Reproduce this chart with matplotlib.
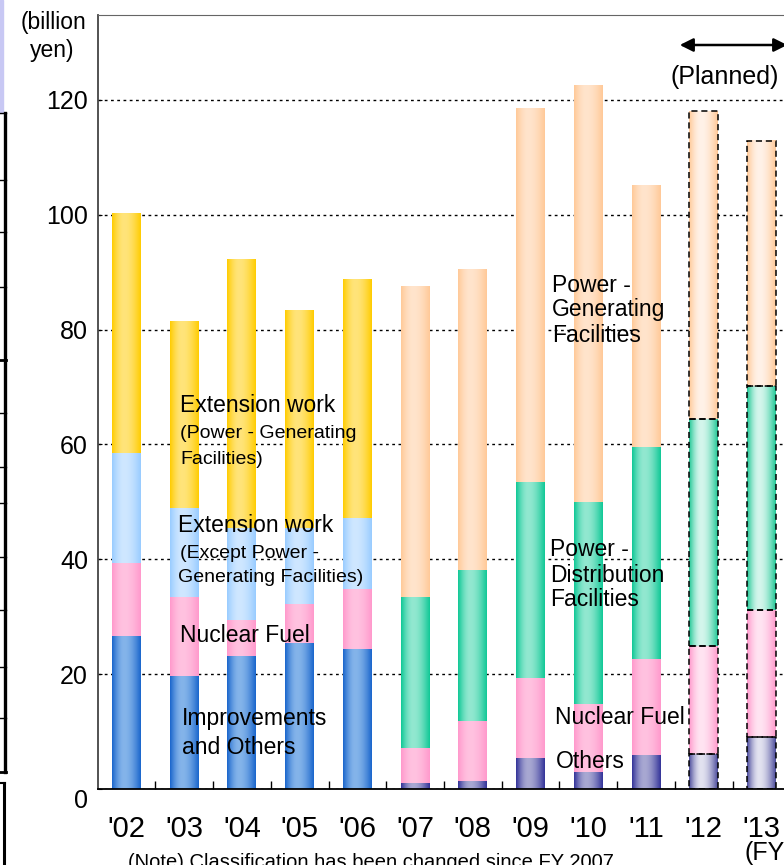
import matplotlib
matplotlib.use("Agg")
import matplotlib.pyplot as plt
import numpy as np
from matplotlib.colors import to_rgb
from matplotlib.lines import Line2D
from matplotlib.patches import Rectangle

plt.rcParams['font.family'] = ['Liberation Sans', 'DejaVu Sans']

years = ["'02", "'03", "'04", "'05", "'06", "'07", "'08", "'09", "'10", "'11", "'12", "'13"]

# old classification (FY02-06)
improvements = [26.7, 19.7, 23.2, 25.4, 24.4, 0, 0, 0, 0, 0, 0, 0]
nuclear_old = [12.6, 13.7, 6.2, 6.8, 10.4, 0, 0, 0, 0, 0, 0, 0]
ext_other = [19.2, 15.6, 16.1, 13.3, 12.4, 0, 0, 0, 0, 0, 0, 0]
ext_power = [41.7, 32.4, 46.7, 37.9, 41.6, 0, 0, 0, 0, 0, 0, 0]

# new classification (FY07-13), '12 and '13 planned
others = [0, 0, 0, 0, 0, 1.0, 1.4, 5.4, 3.0, 5.9, 6.1, 9.1]
nuclear_new = [0, 0, 0, 0, 0, 6.1, 10.4, 13.9, 11.8, 16.7, 18.8, 22.1]
distribution = [0, 0, 0, 0, 0, 26.3, 26.4, 34.2, 35.2, 37.0, 39.6, 39.0]
generating = [0, 0, 0, 0, 0, 54.1, 52.4, 65.1, 72.5, 45.5, 53.5, 42.7]

planned = [False] * 10 + [True, True]

# (edge, centre) colours for the shaded bars
series = [
    (improvements, ('#1a66cc', '#84b4ea'), ('#1a66cc', '#84b4ea')),
    (nuclear_old, ('#ff99cc', '#ffc2e0'), ('#ff99cc', '#ffc2e0')),
    (ext_other, ('#99ccff', '#cfe7ff'), ('#99ccff', '#cfe7ff')),
    (ext_power, ('#ffcc00', '#ffe47a'), ('#ffcc00', '#ffe47a')),
    (others, ('#333399', '#a8a8d2'), ('#4c4c9c', '#e2e2f0')),
    (nuclear_new, ('#ff99cc', '#ffc2e0'), ('#ff99cc', '#ffe4f2')),
    (distribution, ('#10c896', '#92e8d0'), ('#22c896', '#d4f6ec')),
    (generating, ('#ffc998', '#ffe4cc'), ('#ffc998', '#fff2e8')),
]


def gradient(edge, mid, n=80):
    x = np.linspace(0, 1, n)
    t = np.where(x < 0.42, x / 0.42, (1 - x) / 0.58)
    t = np.sin(t * np.pi / 2)
    e = np.array(to_rgb(edge))
    m = np.array(to_rgb(mid))
    return (e[None, :] * (1 - t[:, None]) + m[None, :] * t[:, None])[None, :, :]


fig = plt.figure(figsize=(7.84, 8.65), dpi=100)
ax = fig.add_axes([97.6 / 784, 76 / 865, 692.8 / 784, 774 / 865])

x = np.arange(len(years))
bottom = np.zeros(len(years))
for vals, col, col_p in series:
    vals = np.array(vals)
    bars = ax.bar(x, vals, 0.5, bottom=bottom, color=col[0], zorder=2)
    for i, p in enumerate(bars.patches):
        if vals[i] <= 0:
            continue
        c = col_p if planned[i] else col
        ax.imshow(gradient(*c), extent=(p.get_x(), p.get_x() + p.get_width(),
                                        p.get_y(), p.get_y() + p.get_height()),
                  aspect='auto', zorder=2.1, interpolation='bilinear')
        if planned[i]:
            ax.add_patch(Rectangle((p.get_x(), p.get_y()), p.get_width(), p.get_height(),
                                   fill=False, ec='black', lw=1.1, ls=(0, (4, 2.5)), zorder=3))
    bottom += vals

ax.set_xlim(-0.5, 11.5)
ax.set_ylim(0, 134.8)
ax.set_yticks([0, 20, 40, 60, 80, 100, 120])
ax.set_yticklabels(['0', '20', '40', '60', '80', '100', '120'], fontsize=18)
ax.set_xticks(x)
ax.set_xticklabels(years, fontsize=21)
ax.set_xticks(x[:-1] + 0.5, minor=True)
ax.tick_params(axis='x', which='major', length=0, pad=19)
ax.tick_params(axis='x', which='minor', direction='in', length=6, width=1)
ax.tick_params(axis='y', direction='in', length=3, pad=7)
ax.yaxis.grid(True, color='black', linestyle=(0, (2, 2.5)), linewidth=1)
ax.set_axisbelow(True)
ax.spines['right'].set_visible(False)
ax.spines['left'].set_color('#444444')
ax.spines['top'].set_color('#666666')
ax.spines['left'].set_linewidth(1.3)
ax.spines['bottom'].set_linewidth(1.3)
for t in ax.get_yticklabels():
    if t.get_text() == '0':
        t.set_va('top')


def px(xp, yp):
    return xp / 784, 1 - yp / 865


def label(xp, yp, s, size=16.5):
    fig.text(*px(xp, yp), s, fontsize=size, ha='left', va='center')


fig.text(*px(53, 22), '(billion', fontsize=16.5, ha='center', va='center')
fig.text(*px(52, 50), 'yen)', fontsize=16.5, ha='center', va='center')

label(180, 406, 'Extension work')
label(180, 433, '(Power - Generating', 14)
label(180, 459, 'Facilities)', 14)
label(178, 526, 'Extension work')
label(180, 553, '(Except Power -', 14)
label(178, 578, 'Generating Facilities)', 14)
label(180, 636, 'Nuclear Fuel')
label(182, 719, 'Improvements')
label(182, 747, 'and Others')
label(552, 285, 'Power -')
label(552, 310, 'Generating')
label(552, 336, 'Facilities')
label(550, 549, 'Power -')
label(550, 575, 'Distribution')
label(550, 600, 'Facilities')
label(555, 718, 'Nuclear Fuel')
label(556, 762, 'Others')
label(670, 77, '(Planned)', 18)
label(744, 853, '(FY', 18)
label(128, 862, '(Note) Classification has been changed since FY 2007', 14.5)

fig.add_artist(matplotlib.patches.FancyArrowPatch(px(677, 45), px(790, 45),
                                                  arrowstyle='<|-|>', mutation_scale=20,
                                                  color='black', lw=1.8,
                                                  transform=fig.transFigure))

# slide border remains at the left edge
fig.add_artist(Rectangle(px(0, 113), 3 / 784, 113 / 865, color='#c8c8f4', transform=fig.transFigure))
fig.add_artist(Line2D([5 / 784, 5 / 784], [1 - 113 / 865, 1 - 772 / 865], color='black', lw=2.4))
for yy in [113, 180, 232, 287, 360, 413, 467, 503, 557, 610, 667, 718, 772]:
    fig.add_artist(Line2D([0, 6 / 784], [1 - yy / 865, 1 - yy / 865], color='black',
                          lw=2.0 if yy in (360, 772) else 1.0))
fig.add_artist(Line2D([4 / 784, 4 / 784], [1 - 783 / 865, 0], color='black', lw=2.2))
fig.add_artist(Line2D([0, 5 / 784], [1 - 783 / 865, 1 - 783 / 865], color='black', lw=1.5))

fig.savefig('out.png', dpi=100)
